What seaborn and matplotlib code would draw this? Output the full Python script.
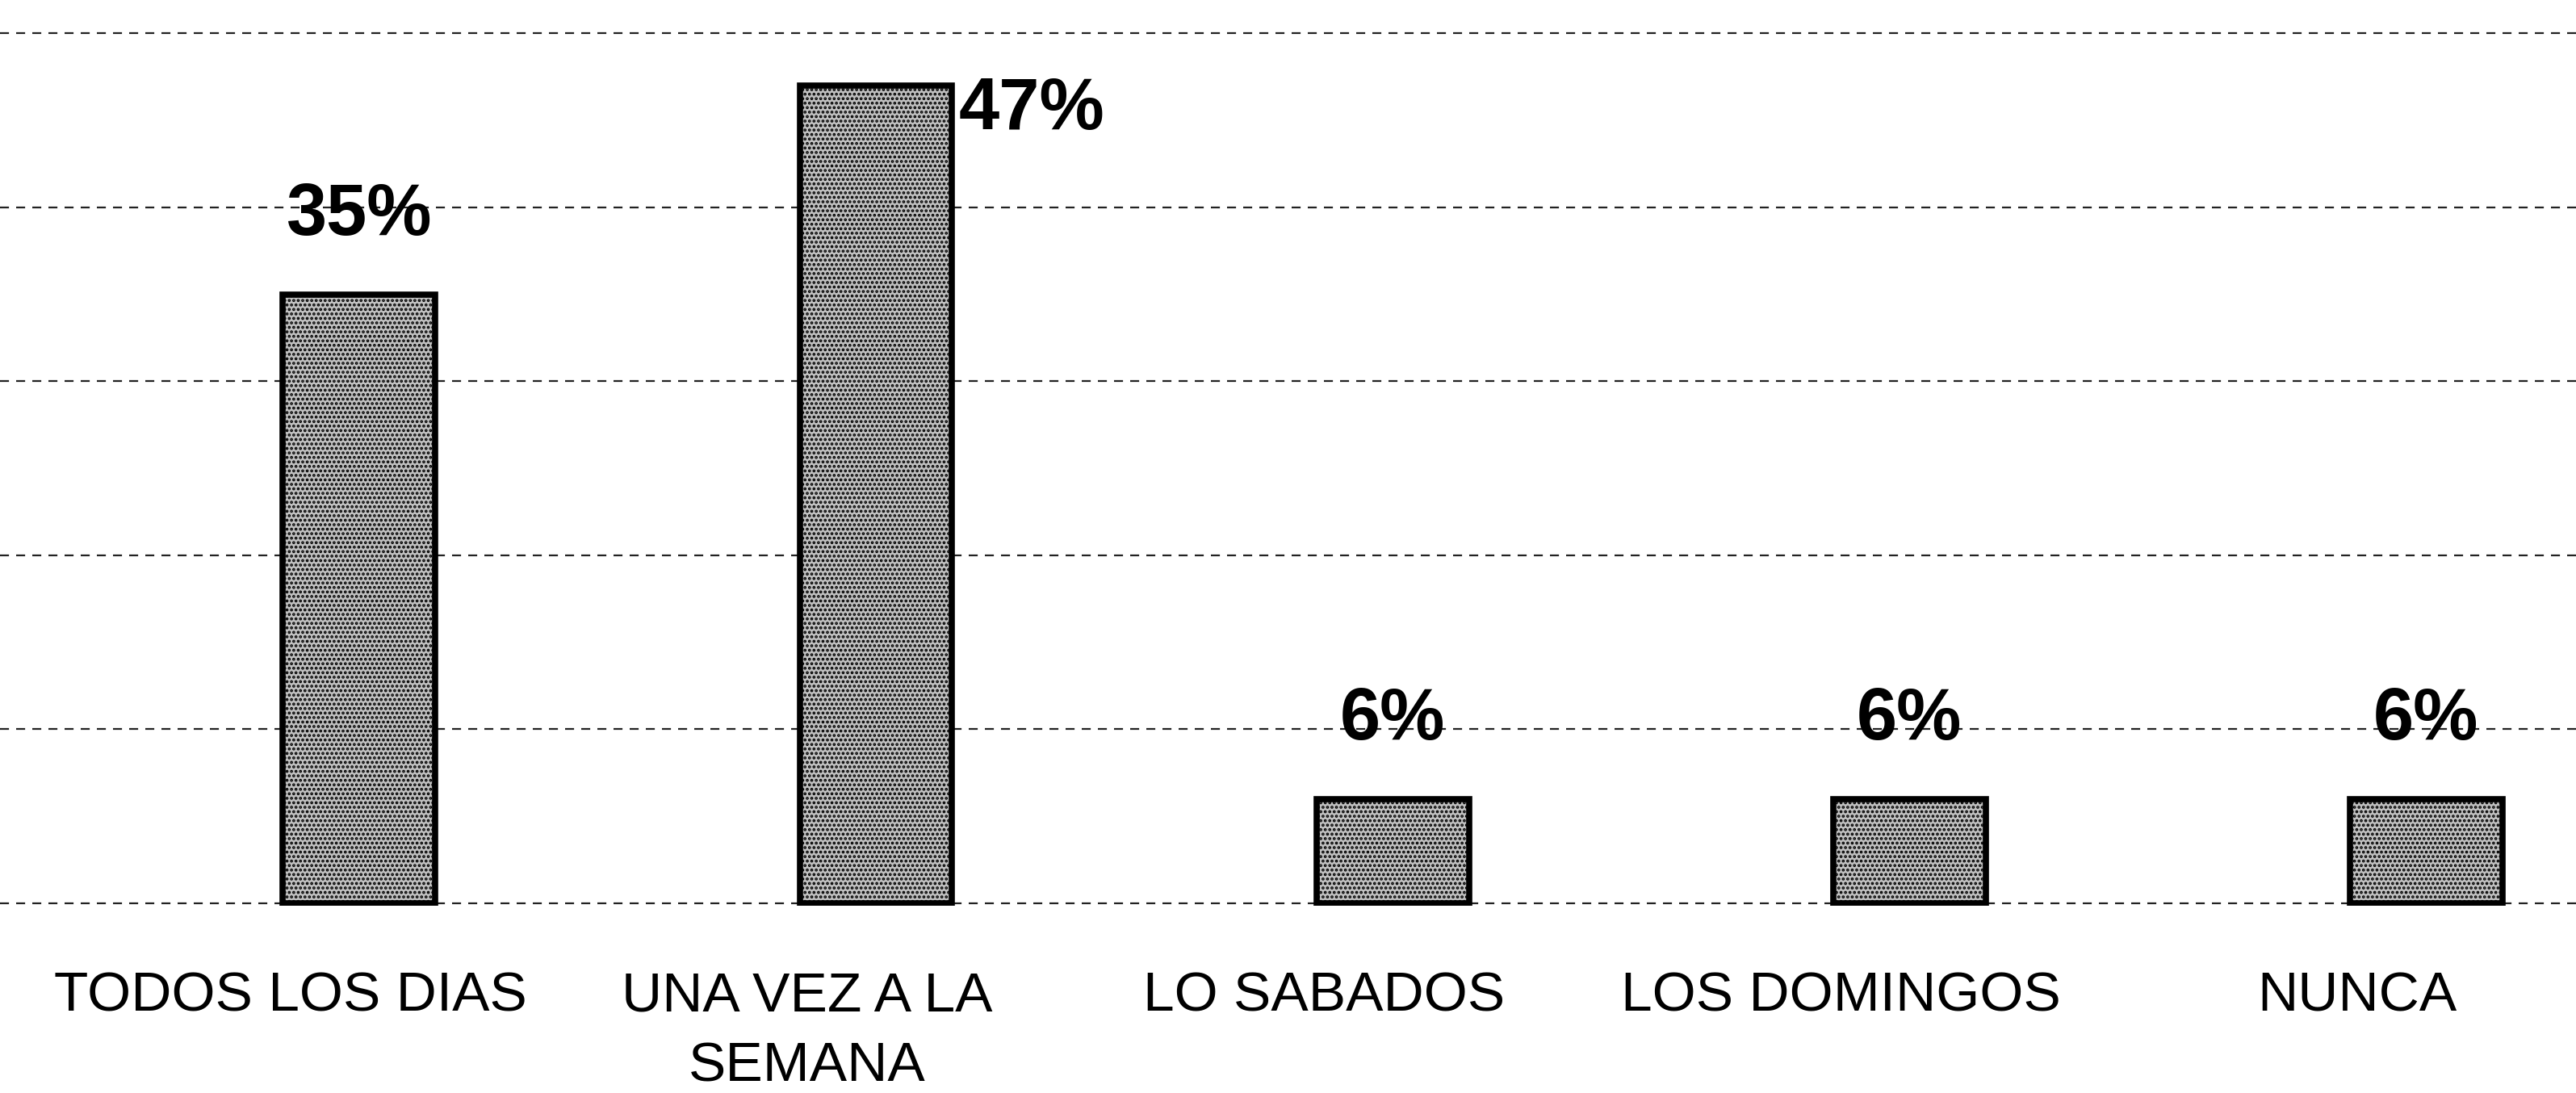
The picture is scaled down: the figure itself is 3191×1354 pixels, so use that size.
import matplotlib
matplotlib.use('Agg')
import matplotlib.pyplot as plt
from matplotlib import font_manager
from matplotlib.transforms import ScaledTranslation
import seaborn as sns
import pandas as pd

# data
categories = ['TODOS LOS DIAS', 'UNA VEZ A LA\nSEMANA', 'LO SABADOS', 'LOS DOMINGOS', 'NUNCA']
percent = [35, 47, 6, 6, 6]

sns.set_style('white')

# narrow font like the original if we have it
names = {f.name for f in font_manager.fontManager.ttflist}
family = 'Liberation Sans'
narrow = False
for cand in ['Liberation Sans Narrow', 'Arial Narrow']:
    if cand in names:
        family = cand
        narrow = True
        break
plt.rcParams['font.family'] = [family, 'DejaVu Sans']
plt.rcParams['text.color'] = 'black'
plt.rcParams['xtick.color'] = 'black'
plt.rcParams['hatch.linewidth'] = 1.8

tick_fs = 57 if narrow else 50
val_fs = 71 if narrow else 65

df = pd.DataFrame({'cat': categories, 'pct': percent})

fig = plt.figure(figsize=(31.91, 13.54), dpi=100)
ax = fig.add_axes([0, 0.1712, 1, 0.83])

sns.barplot(data=df, x='cat', y='pct', ax=ax, width=0.295,
            color='#c0c0c0', edgecolor='black', linewidth=5.5, saturation=1)
for p in ax.patches:
    p.set_hatch('...')

ax.set_xlim(-0.695, 4.29)
ax.set_ylim(-0.15, 52)
ax.set_yticks(range(0, 51, 10))
ax.yaxis.grid(True, color='#222222', linestyle=(0, (5, 4)), linewidth=1.6)
ax.set_axisbelow(True)
ax.set_yticklabels([])
ax.tick_params(axis='y', length=0)
ax.tick_params(axis='x', length=0, pad=58, labelsize=tick_fs, labelcolor='black')
ax.set_xlabel('')
ax.set_ylabel('')
sns.despine(ax=ax, left=True, bottom=True)

# category labels sit a bit left of the bars in the original
shift = ScaledTranslation(-0.85, 0, fig.dpi_scale_trans)
for lab in ax.get_xticklabels():
    lab.set_transform(lab.get_transform() + shift)
    lab.set_linespacing(1.45)

for i, v in enumerate(percent):
    if i == 1:
        ax.text(i + 0.16, v - 2.5, f'{v}%', ha='left', va='baseline',
                fontsize=val_fs, fontweight='bold')
    else:
        ax.text(i, v + 3.4, f'{v}%', ha='center', va='baseline',
                fontsize=val_fs, fontweight='bold')

fig.savefig('out.png', dpi=100)
